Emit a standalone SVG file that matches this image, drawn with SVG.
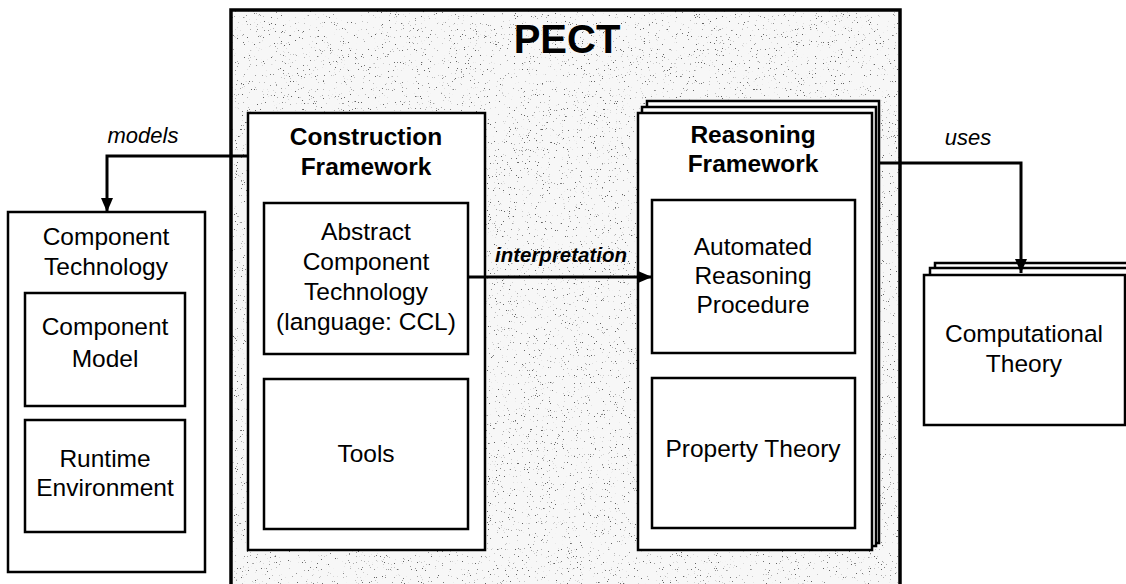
<svg xmlns="http://www.w3.org/2000/svg" width="1126" height="584" viewBox="0 0 1126 584">
<style>
.box{fill:#fff;stroke:#000;stroke-width:2.5}
.t{font-family:"Liberation Sans",Arial,sans-serif;font-size:24.5px;fill:#000;text-anchor:middle}
.b{font-weight:bold}
.lbl{font-family:"Liberation Sans",Arial,sans-serif;font-size:22px;font-style:italic;fill:#000;text-anchor:middle}
.conn{fill:none;stroke:#000;stroke-width:3}
</style>
<defs>
<filter id="speckle" x="0" y="0" width="100%" height="100%">
<feTurbulence type="fractalNoise" baseFrequency="0.85" numOctaves="2" seed="7" result="n"/>
<feColorMatrix in="n" type="matrix" values="0 0 0 0 0  0 0 0 0 0  0 0 0 0 0  -12 0 0 0 3.6"/>
</filter>
<marker id="ah" viewBox="0 0 14 12" refX="14" refY="6" markerWidth="14" markerHeight="12" markerUnits="userSpaceOnUse" orient="auto">
<path d="M0,0 L14,6 L0,12 z" fill="#000"/>
</marker>
</defs>
<rect width="1126" height="584" fill="#fff"/>

<g id="pect">
<rect x="231" y="10" width="669" height="580" fill="#f7f7f7"/>
<rect x="231" y="10" width="669" height="580" fill="#000" filter="url(#speckle)" opacity="0.6"/>
<rect x="231" y="10" width="669" height="580" fill="none" stroke="#000" stroke-width="3.5"/>
<text class="t b" x="567" y="53" style="font-size:40px">PECT</text>
</g>

<g id="construction-framework">
<rect class="box" x="248" y="113" width="237" height="437"/>
<text class="t b" x="366" y="145">Construction</text>
<text class="t b" x="366" y="175">Framework</text>
</g>
<g id="abstract-component-technology">
<rect class="box" x="264" y="203" width="204" height="151"/>
<text class="t" x="366" y="240">Abstract</text>
<text class="t" x="366" y="270">Component</text>
<text class="t" x="366" y="300">Technology</text>
<text class="t" x="366" y="330">(language: CCL)</text>
</g>
<g id="tools">
<rect class="box" x="264" y="379" width="204" height="150"/>
<text class="t" x="366" y="462">Tools</text>
</g>

<g id="reasoning-framework">
<rect class="box" x="647" y="101" width="232" height="442"/>
<rect class="box" x="642" y="107" width="234" height="439"/>
<rect class="box" x="638" y="113" width="234" height="437"/>
<text class="t b" x="753" y="143">Reasoning</text>
<text class="t b" x="753" y="172">Framework</text>
</g>
<g id="automated-reasoning-procedure">
<rect class="box" x="652" y="200" width="203" height="153"/>
<text class="t" x="753" y="255">Automated</text>
<text class="t" x="753" y="284">Reasoning</text>
<text class="t" x="753" y="313">Procedure</text>
</g>
<g id="property-theory">
<rect class="box" x="652" y="378" width="203" height="150"/>
<text class="t" x="753" y="457">Property Theory</text>
</g>

<g id="component-technology">
<rect class="box" x="8" y="212" width="197" height="360"/>
<text class="t" x="106" y="245">Component</text>
<text class="t" x="106" y="275">Technology</text>
</g>
<g id="component-model">
<rect class="box" x="25" y="293" width="160" height="113"/>
<text class="t" x="105" y="335">Component</text>
<text class="t" x="105" y="367">Model</text>
</g>
<g id="runtime-environment">
<rect class="box" x="25" y="420" width="160" height="112"/>
<text class="t" x="105" y="467">Runtime</text>
<text class="t" x="105" y="496">Environment</text>
</g>

<g id="computational-theory">
<rect class="box" x="935" y="263" width="200" height="150" stroke-width="2"/>
<rect class="box" x="930" y="268" width="200" height="150" stroke-width="2"/>
<rect class="box" x="924" y="275" width="201" height="150" stroke-width="2"/>
<text class="t" x="1024" y="342">Computational</text>
<text class="t" x="1024" y="372">Theory</text>
</g>

<g id="connectors">
<polyline class="conn" points="248,156 107,156 107,212" marker-end="url(#ah)"/>
<text class="lbl" x="143" y="143">models</text>
<line class="conn" x1="468" y1="277" x2="652" y2="277" marker-end="url(#ah)"/>
<text class="lbl" x="561" y="262" style="font-weight:bold;font-size:20.5px">interpretation</text>
<polyline class="conn" points="879,163 1021,163 1021,273" marker-end="url(#ah)"/>
<text class="lbl" x="968" y="145">uses</text>
</g>
</svg>
